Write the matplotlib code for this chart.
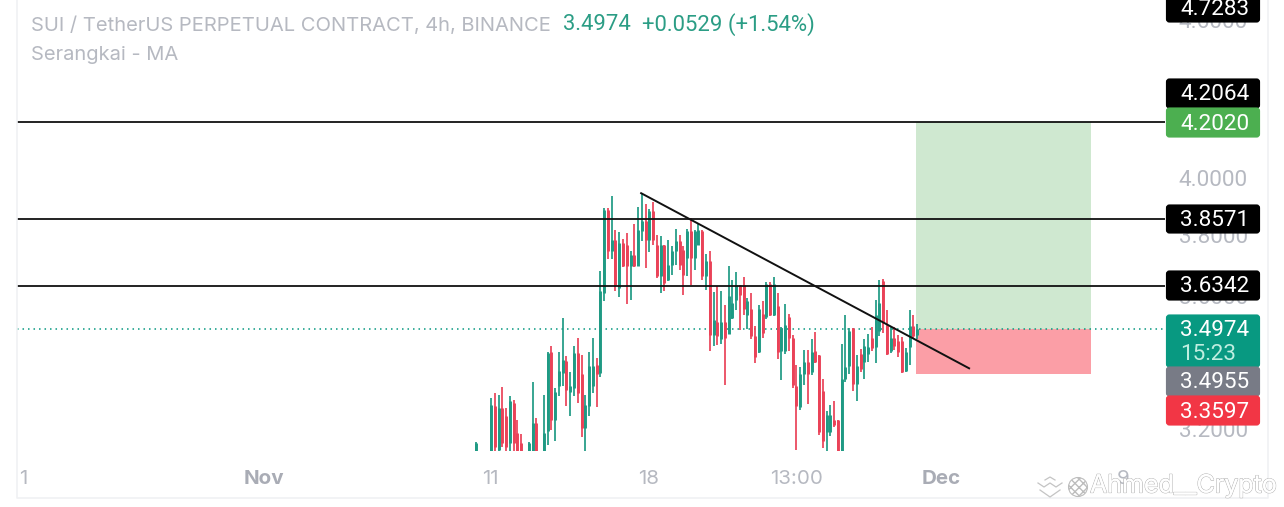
import numpy as np
import matplotlib
matplotlib.use("Agg")
import matplotlib.pyplot as plt
from matplotlib.patches import Rectangle, FancyBboxPatch
import matplotlib.patheffects as pe

nan = float("nan")
opens = [3.139,nan,nan,nan,3.139,3.265,3.141,3.260,3.236,3.160,3.274,3.188,3.160,nan,3.139,3.139,3.216,nan,3.139,3.193,
         3.427,3.226,3.323,3.364,3.398,3.308,3.318,3.423,3.359,3.202,3.265,3.323,3.388,3.364,3.610,3.888,3.746,3.785,3.626,3.774,
         3.769,3.697,3.735,3.699,3.814,3.848,3.785,3.882,3.769,3.664,3.769,3.653,3.702,3.746,3.780,3.752,3.724,3.814,3.724,3.769,
         3.814,3.664,3.713,3.479,3.520,3.465,3.520,3.482,3.530,3.589,3.636,3.636,3.540,3.560,3.475,3.425,3.545,3.535,3.640,3.540,
         3.570,3.430,3.430,3.535,3.470,3.325,3.262,3.360,3.395,3.365,3.430,3.417,3.310,3.190,3.190,3.225,3.226,3.139,3.345,3.385,
         3.500,3.330,3.420,3.395,3.420,3.470,3.440,3.490,3.650,3.510,3.430,3.470,3.460,3.460,3.370,3.440,3.505,3.478]
highs = [3.164,nan,nan,nan,3.289,3.303,3.299,3.320,3.260,3.294,3.282,3.226,3.186,nan,3.164,3.336,3.230,nan,3.299,3.427,
         3.446,3.318,3.426,3.532,3.413,3.366,3.446,3.468,3.418,3.299,3.427,3.468,3.408,3.681,3.893,3.893,3.936,3.819,3.811,3.789,
         3.808,3.746,3.840,3.897,3.947,3.908,3.890,3.913,3.802,3.799,3.769,3.783,3.765,3.823,3.802,3.763,3.823,3.859,3.817,3.842,
         3.819,3.738,3.746,3.615,3.633,3.618,3.573,3.699,3.652,3.679,3.636,3.661,3.594,3.610,3.505,3.573,3.586,3.647,3.647,3.661,
         3.612,3.503,3.575,3.545,3.477,3.387,3.382,3.432,3.432,3.467,3.487,3.417,3.345,3.251,3.268,3.280,3.226,3.452,3.540,3.500,
         3.500,3.417,3.436,3.467,3.480,3.503,3.589,3.652,3.656,3.557,3.503,3.503,3.477,3.473,3.439,3.555,3.542,3.513]
lows = [3.139,nan,nan,nan,3.139,3.139,3.139,3.150,3.139,3.139,3.139,3.139,3.139,nan,3.139,3.139,3.139,nan,3.139,3.155,
        3.197,3.167,3.294,3.323,3.267,3.236,3.294,3.274,3.176,3.139,3.236,3.303,3.263,3.352,3.584,3.722,3.722,3.616,3.598,3.695,
        3.576,3.587,3.695,3.697,3.780,3.692,3.743,3.769,3.659,3.612,3.616,3.648,3.670,3.702,3.686,3.605,3.664,3.637,3.686,3.769,
        3.653,3.621,3.428,3.444,3.449,3.452,3.326,3.480,3.527,3.557,3.495,3.542,3.497,3.465,3.394,3.422,3.470,3.527,3.537,3.537,
        3.404,3.343,3.420,3.429,3.318,3.142,3.254,3.328,3.272,3.358,3.392,3.184,3.146,3.139,3.180,3.206,3.139,3.139,3.335,3.361,
        3.311,3.280,3.367,3.345,3.397,3.429,3.394,3.475,3.485,3.417,3.422,3.432,3.410,3.363,3.365,3.387,3.465,3.467]
closes = [3.160,nan,nan,nan,3.269,3.150,3.260,3.160,3.150,3.279,3.160,3.139,3.139,nan,3.160,3.216,3.139,nan,3.188,3.423,
          3.226,3.308,3.369,3.403,3.313,3.323,3.423,3.303,3.202,3.269,3.383,3.385,3.359,3.616,3.888,3.746,3.785,3.637,3.774,3.697,
          3.697,3.735,3.697,3.819,3.848,3.785,3.882,3.785,3.664,3.769,3.642,3.702,3.746,3.780,3.702,3.670,3.814,3.724,3.814,3.819,
          3.664,3.713,3.479,3.526,3.475,3.520,3.470,3.600,3.580,3.636,3.605,3.560,3.585,3.475,3.410,3.560,3.485,3.640,3.540,3.640,
          3.425,3.500,3.510,3.470,3.328,3.265,3.360,3.395,3.360,3.425,3.395,3.190,3.165,3.240,3.240,3.210,3.139,3.345,3.382,3.490,
          3.330,3.385,3.375,3.445,3.440,3.438,3.540,3.580,3.515,3.420,3.470,3.445,3.425,3.365,3.425,3.505,3.475,3.497]

level_prices = [4.2020, 3.8571, 3.6342]
last_price = 3.4974
stop_price = 3.3597
y_ticks = [4.6, 4.0, 3.8, 3.6, 3.4, 3.2]
x_tick_pos = [-120, -56.2, 3.7, 45.8, 84.9, 123.3, 171.6]
x_tick_labels = ["1", "Nov", "11", "18", "13:00", "Dec", "9"]
bold_ticks = ["Nov", "Dec"]
trend_x = [43.8, 130.8]
trend_y = [3.945, 3.377]
pos_x = [116.7, 163.1]

GREEN = "#1f9a84"
RED = "#ea4258"
TEAL = "#089981"
GREY = "#b6b9c1"
NUM_FONT = ["Roboto", "DejaVu Sans"]

W, H = 1284, 507
fig = plt.figure(figsize=(W / 100, H / 100), dpi=100, facecolor="white")
plt.rcParams["font.family"] = ["Inter", "DejaVu Sans"]

L, R, B = 17, 1165, 451
ax = fig.add_axes([L / W, 1 - B / H, (R - L) / W, B / H])
ax.set_yscale("log")
ax.set_xlim(-121.75, 182.76)
ax.set_ylim(3.138, 4.683)
for s in ax.spines.values():
    s.set_visible(False)

ax.add_patch(Rectangle((pos_x[0], last_price), pos_x[1] - pos_x[0], level_prices[0] - last_price,
                       fc="#cfe8d0", ec="none", zorder=1))
ax.add_patch(Rectangle((pos_x[0], stop_price), pos_x[1] - pos_x[0], last_price - stop_price,
                       fc="#fb9ea6", ec="none", zorder=1))

for i, (o, h, l, c) in enumerate(zip(opens, highs, lows, closes)):
    if np.isnan(o):
        continue
    col = GREEN if c >= o else RED
    ax.vlines(i, l, h, color=col, lw=1.25, zorder=3)
    ax.vlines(i, min(o, c), max(o, c), color=col, lw=2.1, zorder=3)

for p in level_prices:
    ax.axhline(p, color="#111111", lw=1.3, zorder=4)
ax.axhline(last_price, color=TEAL, lw=1.1, ls=(0, (1, 2.6)), zorder=2)
ax.plot(trend_x, trend_y, color="#111111", lw=1.4, zorder=5)

ax.yaxis.tick_right()
ax.set_yticks(y_ticks)
ax.set_yticklabels([f"{t:.4f}" for t in y_ticks], color=GREY, fontsize=16.2, family=NUM_FONT)
ax.minorticks_off()
ax.tick_params(axis="y", length=0, pad=10)
ax.set_xticks(x_tick_pos)
ax.set_xticklabels(x_tick_labels, color=GREY, fontsize=14.8)
for t in ax.get_xticklabels():
    if t.get_text() in bold_ticks:
        t.set_fontweight("bold")
        t.set_color("#a9acb5")
ax.tick_params(axis="x", length=0, pad=13.5)

# Pixel-space overlay for the chart furniture
ov = fig.add_axes([0, 0, 1, 1], zorder=10)
ov.set_xlim(0, W)
ov.set_ylim(H, 0)
ov.axis("off")
ov.patch.set_alpha(0)

ov.plot([17, 17, 1268, 1268], [0, 498, 498, 0], color="#f0f1f3", lw=1.2, zorder=1)

badges = [
    (-6, 22, "#000000", "4.7283", None),
    (79, 108, "#000000", "4.2064", None),
    (108, 137, "#4caf50", "4.2020", None),
    (205, 233, "#000000", "3.8571", None),
    (271, 300, "#000000", "3.6342", None),
    (315, 367, TEAL, "3.4974", "15:23"),
    (367, 396, "#787b86", "3.4955", None),
    (396, 425, "#f23645", "3.3597", None),
]
for top, bot, col, txt, sub in badges:
    ov.add_patch(FancyBboxPatch((1168, top + 1.5), 90, bot - top - 3, boxstyle="round,pad=0,rounding_size=1.5",
                                fc=col, ec=col, lw=3, zorder=3))
    if sub is None:
        ov.text(1215, (top + bot) / 2 + 1.5 if top > 0 else 9.5, txt, color="white", fontsize=16.2,
                family=NUM_FONT, ha="center", va="center", zorder=4)
    else:
        ov.text(1215, 331, txt, color="white", fontsize=16.2, family=NUM_FONT,
                ha="center", va="center", zorder=4)
        ov.text(1208, 354, sub, color="#bfeee0", fontsize=16.2, family=NUM_FONT,
                ha="center", va="center", zorder=4)

ov.text(31, 25.5, "SUI / TetherUS PERPETUAL CONTRACT, 4h, BINANCE", color=GREY, fontsize=14.5,
        ha="left", va="center")
ov.text(563, 25, "3.4974", color="#2b9d85", fontsize=15.8, family=NUM_FONT, ha="left", va="center")
ov.text(642, 25, "+0.0529 (+1.54%)", color="#2b9d85", fontsize=15.9, family=NUM_FONT, ha="left", va="center")
ov.text(31, 54.5, "Serangkai - MA", color=GREY, fontsize=14.5, ha="left", va="center")

stroke = [pe.withStroke(linewidth=0.9, foreground="#b4b4b4"), pe.Normal()]
ov.text(1090, 486, "Ahmed__Crypto", color="white", fontsize=18, ha="left", va="center",
        path_effects=stroke, zorder=5)
for xs, ys in [([1040, 1050, 1060], [490, 497, 490]),
               ([1038, 1044, 1050, 1056, 1062], [483, 487, 483, 487, 483]),
               ([1045, 1050, 1055], [480, 477, 480])]:
    ov.plot(xs, ys, color="#c4c4c4", lw=0.9, zorder=5)
ov.add_patch(plt.Circle((1078, 487), 9.5, fc="white", ec="#bdbdbd", lw=0.8, hatch="xxxx", zorder=5))

fig.savefig("out.png", dpi=100)
